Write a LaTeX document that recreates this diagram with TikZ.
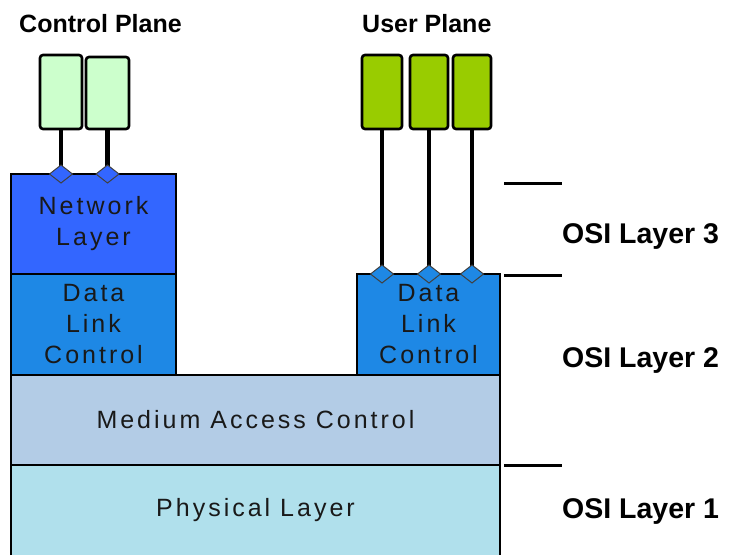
\documentclass[tikz,border=0pt]{standalone}
\usepackage{fontspec}
\setmainfont{Liberation Sans}
\newfontfamily\spacedfont[LetterSpace=12]{Liberation Sans}
\usetikzlibrary{shapes.geometric}

\definecolor{netblue}{RGB}{51,102,255}
\definecolor{dlcblue}{RGB}{30,136,229}
\definecolor{macblue}{RGB}{179,204,230}
\definecolor{phyblue}{RGB}{176,224,236}
\definecolor{ctrlgreen}{RGB}{204,255,204}
\definecolor{usergreen}{RGB}{153,204,0}

\begin{document}
\begin{tikzpicture}[x=1pt,y=-1pt,
  layerbox/.style={draw=black, line width=1.6pt, anchor=north west, outer sep=0pt,
    inner sep=0pt, align=center, text=black!90,
    font=\spacedfont\fontsize{25}{31}\selectfont},
  planebox/.style={draw=black, line width=2.6pt, rounded corners=3pt,
    anchor=north west, outer sep=0pt, inner sep=0pt, minimum height=74},
  wire/.style={line width=4.5pt, black},
  tick/.style={line width=3pt, black},
  port/.style={diamond, inner sep=0pt, outer sep=0pt, minimum width=23pt,
    minimum height=18pt, line width=1pt},
  planelabel/.style={anchor=base west, inner sep=0pt, font=\bfseries\fontsize{25}{30}\selectfont},
  osilabel/.style={anchor=base west, inner sep=0pt, font=\bfseries\fontsize{28.5}{32}\selectfont}
]
\useasboundingbox (0,0) rectangle (730,555);

% lower layers shared by both planes
\node[layerbox, fill=macblue, minimum width=489, minimum height=90] (mac) at (11,375)
  {Medium Access Control};
\node[layerbox, draw=none, fill=phyblue, minimum width=489, minimum height=90] (phy) at (11,465)
  {Physical Layer};
\draw[line width=1.6pt] (phy.south west) -- (phy.north west) -- (phy.north east) -- (phy.south east);

% control plane stack
\node[layerbox, fill=netblue, minimum width=165, minimum height=100] (net) at (11,174)
  {Network\\Layer};
\node[layerbox, fill=dlcblue, minimum width=165, minimum height=101] (dlcL) at (11,274)
  {Data\\Link\\Control};

% user plane stack
\node[layerbox, fill=dlcblue, minimum width=143, minimum height=101] (dlcR) at (357,274)
  {Data\\Link\\Control};

% control plane entities
\node[planebox, fill=ctrlgreen, minimum width=42] (cp1) at (40,55) {};
\node[planebox, fill=ctrlgreen, minimum width=43, minimum height=72] (cp2) at (86,57) {};

% user plane entities
\node[planebox, fill=usergreen, minimum width=40] (up1) at (362,55) {};
\node[planebox, fill=usergreen, minimum width=38] (up2) at (410,55) {};
\node[planebox, fill=usergreen, minimum width=38] (up3) at (453,55) {};

% service access points
\coordinate (p1) at (cp1.south |- net.north);
\coordinate (p2) at (cp2.south |- net.north);
\coordinate (p3) at (up1.south |- dlcR.north);
\coordinate (p4) at (up2.south |- dlcR.north);
\coordinate (p5) at (up3.south |- dlcR.north);

\draw[wire] (cp1.south) -- (p1);
\draw[wire] (cp2.south) -- (p2);
\draw[wire] (up1.south) -- (p3);
\draw[wire] (up2.south) -- (p4);
\draw[wire] (up3.south) -- (p5);

\node[port, fill=netblue, draw=black!75] (s1) at (p1) {};
\node[port, fill=netblue, draw=black!75] (s2) at (p2) {};
\node[port, fill=dlcblue, draw=black!75] (s3) at (p3) {};
\node[port, fill=dlcblue, draw=black!75] (s4) at (p4) {};
\node[port, fill=dlcblue, draw=black!75] (s5) at (p5) {};

% plane titles
\node[planelabel] (cpl) at (19,32) {Control Plane};
\node[planelabel] (upl) at (362,32) {User Plane};

% OSI layer boundaries and names
\coordinate (b3a) at (504,183); \coordinate (b3b) at (562,183);
\coordinate (b2a) at (504,275); \coordinate (b2b) at (562,275);
\coordinate (b1a) at (504,465); \coordinate (b1b) at (562,465);
\draw[tick] (b3a) -- (b3b);
\draw[tick] (b2a) -- (b2b);
\draw[tick] (b1a) -- (b1b);

\node[osilabel] (osi3) at (562,243) {OSI Layer 3};
\node[osilabel] (osi2) at (562,367) {OSI Layer 2};
\node[osilabel] (osi1) at (562,518) {OSI Layer 1};
\end{tikzpicture}
\end{document}
